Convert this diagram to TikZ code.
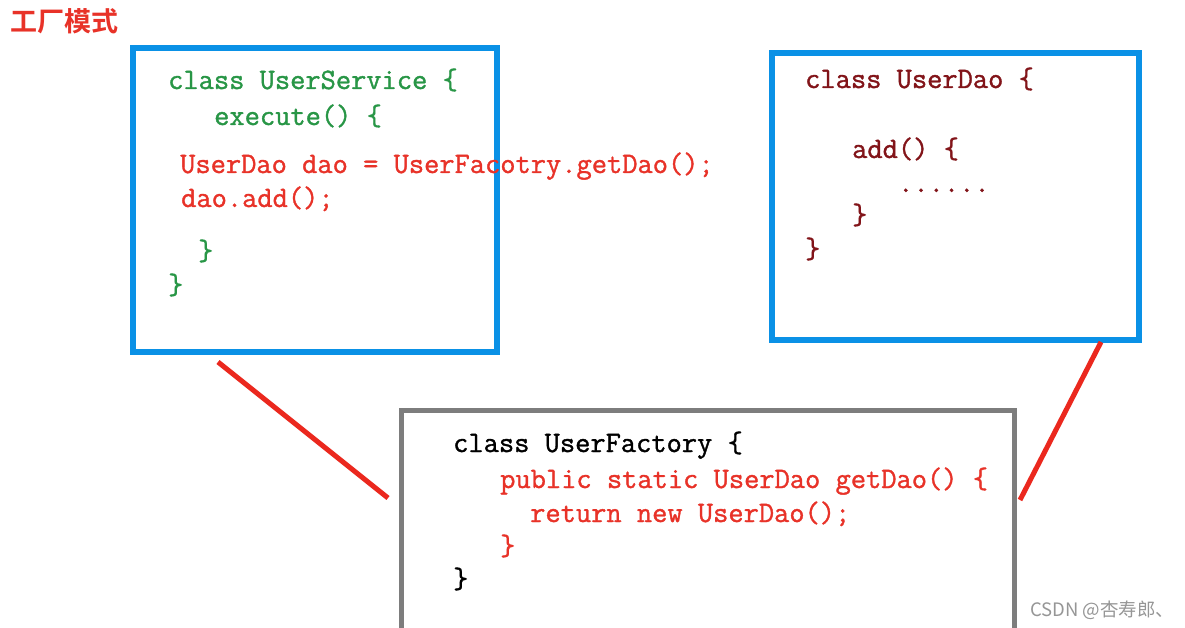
\documentclass[tikz,border=0pt]{standalone}
\usepackage{fontspec}
\newfontfamily\cjk{Noto Sans CJK SC}
\newfontfamily\cjkb{Noto Sans CJK SC Bold}
\newfontfamily\codefont{Latin Modern Mono}[FakeBold=1.2]
\definecolor{boxblue}{RGB}{10,145,230}
\definecolor{boxgray}{RGB}{125,125,125}
\definecolor{codegreen}{RGB}{40,150,70}
\definecolor{codered}{RGB}{232,50,40}
\definecolor{codedark}{RGB}{130,20,25}
\definecolor{linered}{RGB}{235,40,30}
\definecolor{wmgray}{RGB}{150,150,150}
\tikzset{
  code/.style={anchor=base west, inner sep=0pt, font=\codefont\fontsize{29.6}{29.6}\selectfont},
  bluebox/.style={draw=boxblue, line width=6pt},
  graybox/.style={draw=boxgray, line width=5pt},
  link/.style={draw=linered, line width=5pt},
}
\begin{document}
\begin{tikzpicture}[x=1pt,y=-1pt]
\useasboundingbox (0,0) rectangle (1185,628);
\fill[white] (0,0) rectangle (1185,628);
% title
\node[anchor=base west, inner sep=0pt, text=codered, font=\cjkb\fontsize{27}{27}\selectfont] (title) at (10,32) {工厂模式};
% boxes
\begin{scope}
\clip (0,0) rectangle (1185,628);
\draw[bluebox] (133,48) rectangle (497,352);
\draw[bluebox] (772,53) rectangle (1139,340);
\draw[graybox] (401,410) rectangle (1014,640);
\end{scope}
\node[inner sep=0pt, minimum width=364pt, minimum height=304pt] (svc) at (315,200) {};
\node[inner sep=0pt, minimum width=367pt, minimum height=287pt] (dao) at (955.5,196.5) {};
\node[inner sep=0pt, minimum width=613pt, minimum height=220pt] (fac) at (707.5,520) {};
% UserService
\node[code, text=codegreen] (s1) at (168,89) {class UserService \{};
\node[code, text=codegreen] (s2) at (214,125) {execute() \{};
\node[code, text=codered] (s3) at (180,173) {UserDao dao = UserFacotry.getDao();};
\node[code, text=codered] (s4) at (181,207) {dao.add();};
\node[code, text=codegreen] (s5) at (198,260) {\}};
\node[code, text=codegreen] (s6) at (168,294) {\}};
% UserDao
\node[code, text=codedark] (d1) at (805,88) {class UserDao \{};
\node[code, text=codedark] (d2) at (852,158) {add() \{};
\node[code, text=codedark] (d3) at (898,192) {......};
\node[code, text=codedark] (d4) at (852,224) {\}};
\node[code, text=codedark] (d5) at (805,258) {\}};
% UserFactory
\node[code, text=black] (f1) at (453,452) {class UserFactory \{};
\node[code, text=codered] (f2) at (500,488) {public static UserDao getDao() \{};
\node[code, text=codered] (f3) at (530,522) {return new UserDao();};
\node[code, text=codered] (f4) at (500,555) {\}};
\node[code, text=black] (f5) at (453,588) {\}};
% connectors
\coordinate (a1) at (218,362);
\coordinate (a2) at (388,498);
\coordinate (b1) at (1101,342);
\coordinate (b2) at (1020,500);
\draw[link] (a1) -- (a2);
\draw[link] (b1) -- (b2);
% watermark
\node[anchor=base west, inner sep=0pt, text=wmgray, font=\cjk\fontsize{18.5}{18.5}\selectfont] (wm) at (1030,616) {CSDN @杏寿郎、};
\end{tikzpicture}
\end{document}
